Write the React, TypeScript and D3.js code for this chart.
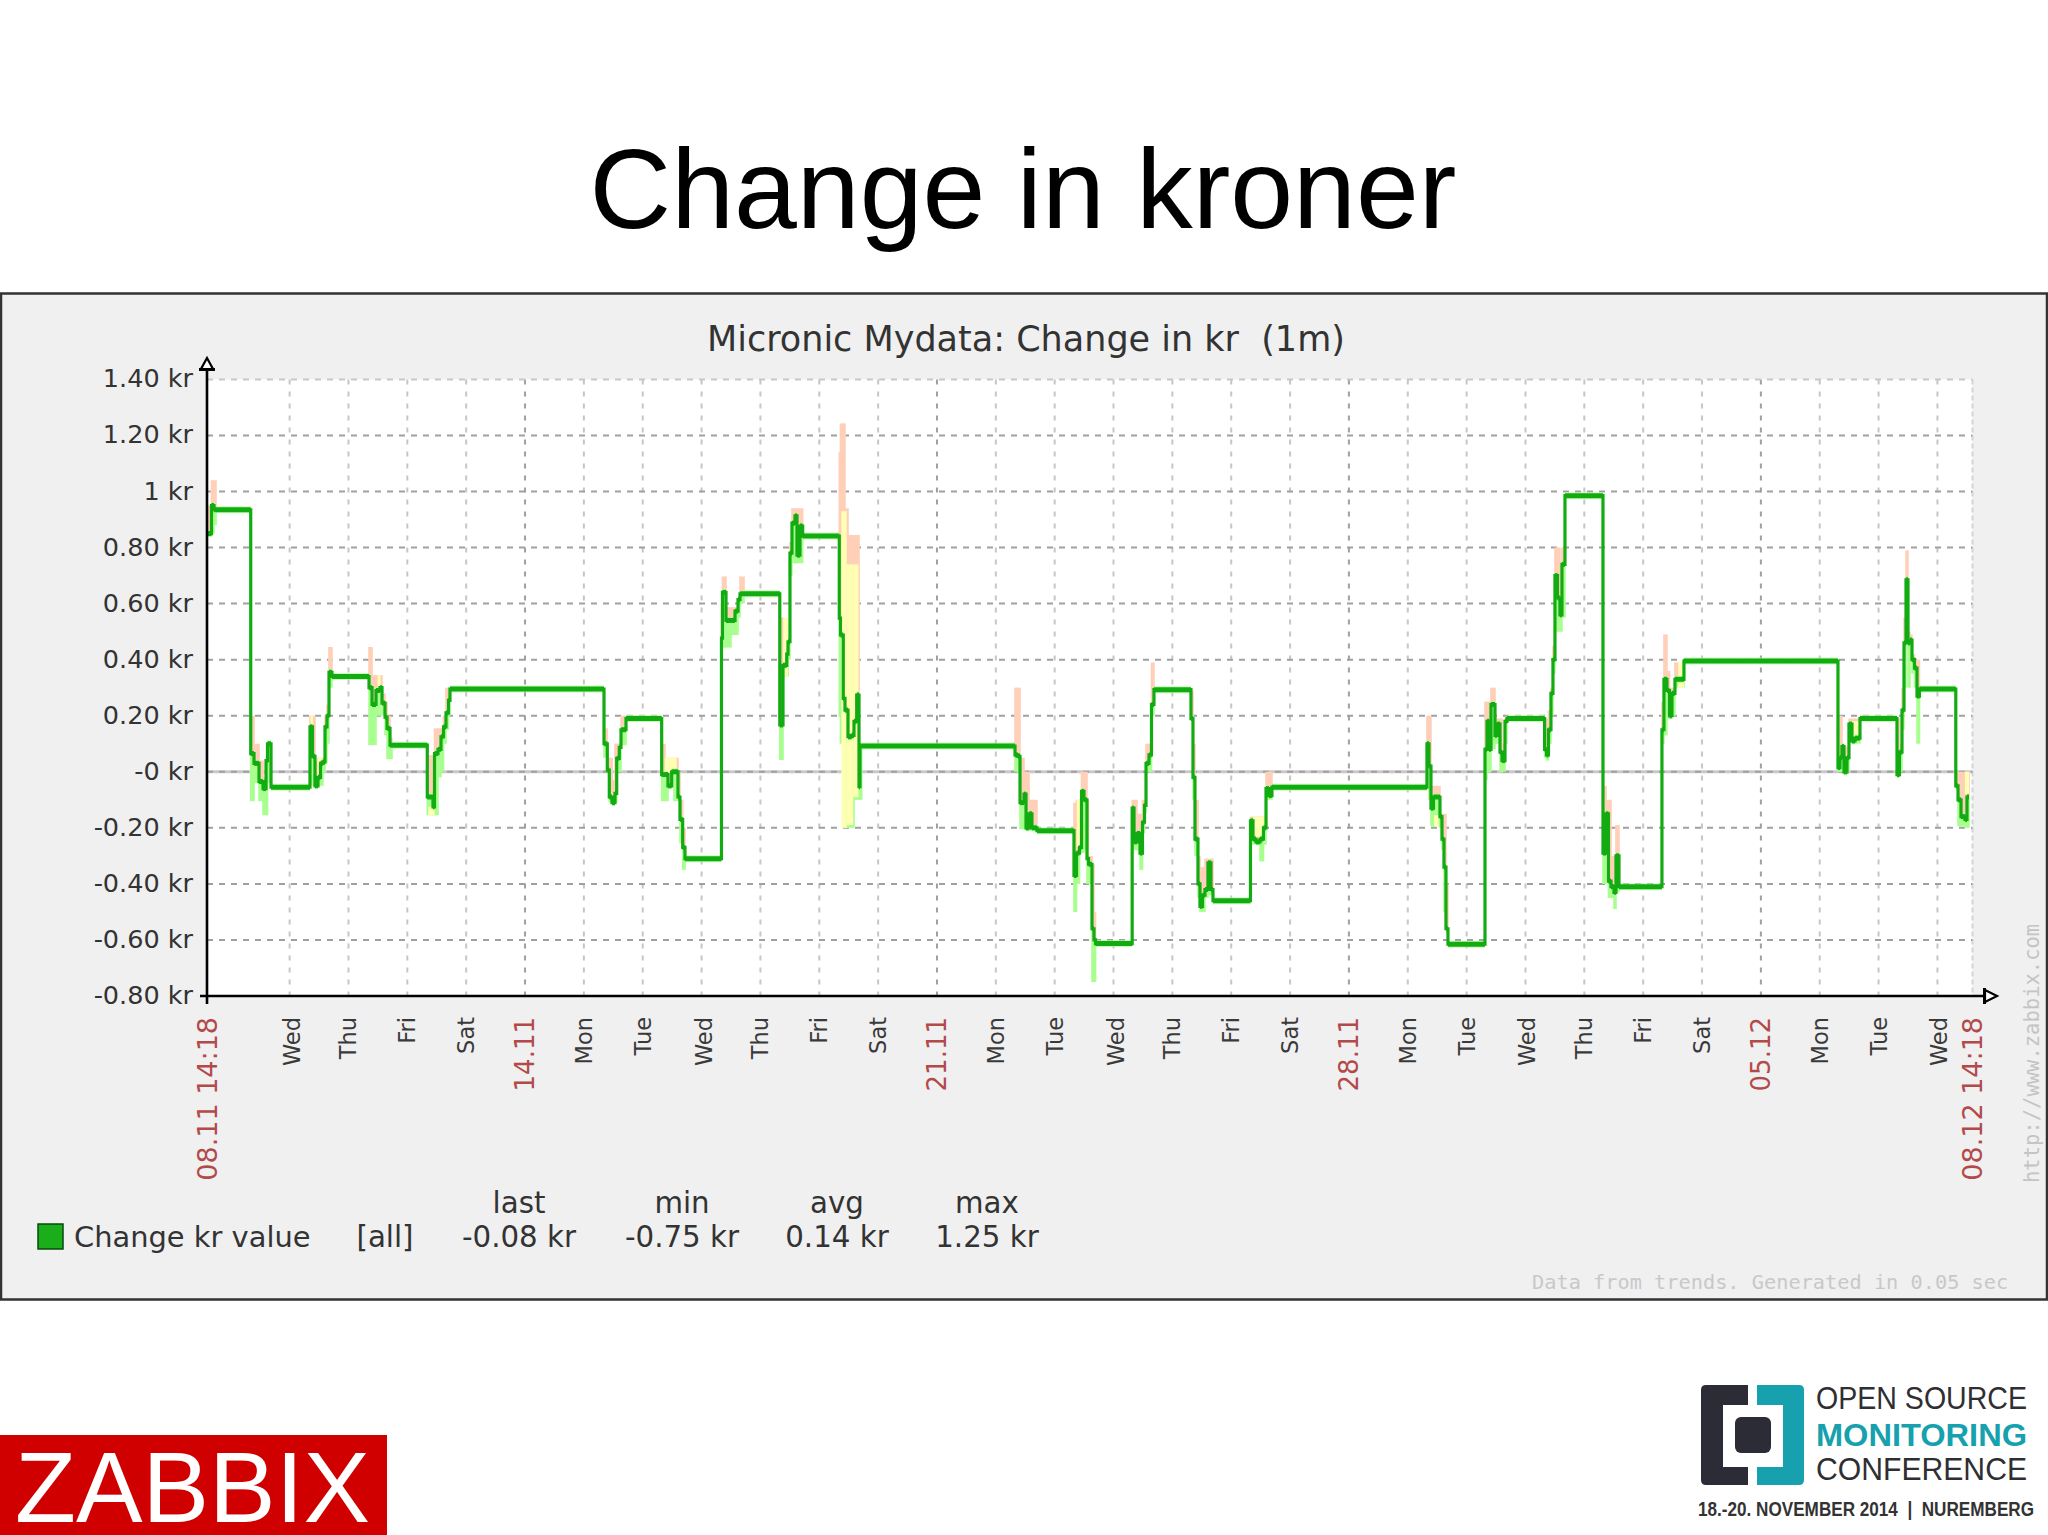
import { useEffect, useRef } from "react";
import * as d3 from "d3";

// trend values. days since 08.11 14:18
const trendDays = [
  0, 0.076, 0.119, 0.153, 0.743, 0.799, 0.884, 0.952, 1.003, 1.028,
  1.088, 1.75, 1.793, 1.835, 1.886, 1.929, 1.971, 2.005, 2.039, 2.073,
  2.124, 2.753, 2.804, 2.872, 2.94, 2.974, 3.025, 3.059, 3.11, 3.144,
  3.743, 3.84, 3.866, 3.925, 3.976, 4.019, 4.061, 4.104, 4.129, 6.746,
  6.802, 6.836, 6.882, 6.933, 6.962, 7.006, 7.035, 7.103, 7.12, 7.726,
  7.782, 7.833, 7.896, 7.935, 8.003, 8.037, 8.083, 8.122, 8.742, 8.759,
  8.819, 8.904, 8.972, 9.023, 9.057, 9.125, 9.733, 9.788, 9.851, 9.873,
  9.906, 9.94, 9.991, 10.025, 10.076, 10.122, 10.744, 10.764, 10.812, 10.841,
  10.892, 10.955, 10.994, 11.04, 11.079, 11.096, 11.125, 13.73, 13.781, 13.815,
  13.883, 13.917, 13.968, 14.018, 14.103, 14.732, 14.775, 14.826, 14.86, 14.902,
  14.953, 14.979, 15.038, 15.072, 15.098, 15.721, 15.752, 15.803, 15.854, 15.896,
  15.93, 15.956, 16.007, 16.049, 16.091, 16.72, 16.754, 16.788, 16.839, 16.873,
  16.916, 16.958, 17.009, 17.06, 17.094, 17.731, 17.774, 17.825, 17.893, 17.952,
  17.995, 18.046, 18.096, 20.73, 20.764, 20.798, 20.841, 20.951, 20.985, 21.019,
  21.053, 21.087, 21.716, 21.75, 21.784, 21.818, 21.886, 21.92, 21.971, 22.005,
  22.056, 22.09, 22.729, 22.761, 22.795, 22.837, 22.871, 22.905, 22.948, 22.99,
  23.024, 23.075, 23.721, 23.772, 23.814, 23.857, 23.908, 23.942, 23.993, 24.723,
  24.757, 24.808, 24.851, 24.893, 24.944, 25.097, 27.714, 27.748, 27.782, 27.816,
  27.867, 27.901, 27.952, 28.003, 28.088, 28.717, 28.759, 28.802, 28.836, 28.87,
  28.904, 28.938, 28.972, 29.014, 29.057, 29.099, 29.716, 29.754, 29.805, 29.873,
  29.906, 29.94,
];

const trendAvg = [
  0.85, 0.95, 0.935, 0.935, 0.065, 0.03, -0.035, -0.06, 0.04, 0.1,
  -0.055, 0.16, 0.055, -0.05, -0.02, 0.03, 0.035, 0.16, 0.2, 0.355,
  0.34, 0.3, 0.24, 0.29, 0.3, 0.245, 0.195, 0.155, 0.095, 0.095,
  -0.09, -0.125, 0.065, 0.08, 0.125, 0.16, 0.21, 0.255, 0.295, 0.1,
  0.006, -0.09, -0.11, -0.077, 0.048, 0.087, 0.15, 0.15, 0.19, -0.01,
  -0.01, -0.05, 0, 0, -0.09, -0.17, -0.27, -0.31, 0.477, 0.64,
  0.54, 0.54, 0.573, 0.614, 0.635, 0.635, 0.167, 0.38, 0.42, 0.464,
  0.78, 0.887, 0.913, 0.773, 0.877, 0.841, 0.548, 0.488, 0.262, 0.22,
  0.125, 0.13, 0.18, 0.274, -0.053, 0.092, 0.092, 0.06, 0.055, -0.11,
  -0.08, -0.2, -0.15, -0.2, -0.21, -0.37, -0.29, -0.27, -0.07, -0.1,
  -0.31, -0.33, -0.56, -0.6, -0.613, -0.13, -0.25, -0.22, -0.29, -0.18,
  -0.12, 0.03, 0.06, 0.24, 0.293, 0.19, -0.02, -0.24, -0.4, -0.48,
  -0.44, -0.42, -0.325, -0.42, -0.46, -0.175, -0.24, -0.25, -0.24, -0.2,
  -0.06, -0.085, -0.055, 0.1, 0.02, -0.13, -0.09, -0.16, -0.24, -0.34,
  -0.56, -0.615, 0.08, 0.18, 0.08, 0.24, 0.13, 0.17, 0.07, 0.04,
  0.18, 0.19, 0.08, 0.06, 0.15, 0.28, 0.4, 0.7, 0.62, 0.56,
  0.74, 0.985, -0.29, -0.15, -0.39, -0.41, -0.43, -0.3, -0.41, 0.15,
  0.33, 0.29, 0.2, 0.28, 0.33, 0.395, 0.015, 0.05, 0.09, 0,
  0.05, 0.17, 0.11, 0.12, 0.19, -0.01, 0.07, 0.22, 0.46, 0.685,
  0.46, 0.47, 0.4, 0.37, 0.27, 0.295, -0.05, -0.1, -0.16, -0.17,
  -0.09, -0.09,
];

const trendMin = [
  0.84, 0.85, 0.88, 0.935, -0.105, -0.04, -0.105, -0.155, -0.155, -0.04,
  -0.055, -0.05, -0.05, -0.05, -0.05, -0.05, 0, 0.03, 0.1, 0.3,
  0.34, 0.095, 0.095, 0.2, 0.25, 0.2, 0.13, 0.045, 0.045, 0.095,
  -0.155, -0.155, -0.155, -0.02, 0, 0.1, 0.15, 0.2, 0.295, 0.05,
  0, -0.11, -0.11, -0.11, 0, 0, 0.095, 0.095, 0.19, -0.105,
  -0.105, -0.05, -0.02, -0.105, -0.105, -0.255, -0.35, -0.31, 0.443, 0.443,
  0.443, 0.488, 0.488, 0.55, 0.6, 0.635, 0.042, 0.34, 0.34, 0.4,
  0.7, 0.744, 0.744, 0.744, 0.744, 0.841, 0.196, 0.1, 0.1, -0.2,
  -0.2, -0.2, -0.1, -0.1, -0.1, -0.1, 0.092, 0, 0, -0.205,
  -0.205, -0.21, -0.21, -0.21, -0.21, -0.5, -0.4, -0.29, -0.29, -0.28,
  -0.4, -0.4, -0.75, -0.75, -0.613, -0.28, -0.28, -0.28, -0.35, -0.22,
  -0.15, 0, 0, 0.2, 0.293, 0.19, -0.1, -0.3, -0.45, -0.5,
  -0.5, -0.45, -0.44, -0.44, -0.46, -0.2, -0.26, -0.26, -0.32, -0.26,
  -0.1, -0.1, -0.055, -0.04, -0.1, -0.195, -0.195, -0.2, -0.28, -0.5,
  -0.56, -0.615, -0.03, 0, 0, 0.08, 0.1, 0.1, 0, 0,
  0.1, 0.19, 0.05, 0.04, 0.1, 0.2, 0.35, 0.5, 0.5, 0.5,
  0.55, 0.985, -0.4, -0.29, -0.45, -0.45, -0.49, -0.43, -0.41, 0.1,
  0.13, 0.19, 0.19, 0.2, 0.3, 0.395, 0, 0, 0, -0.01,
  0, 0.12, 0.1, 0.1, 0.19, -0.01, 0, 0.15, 0.3, 0.47,
  0.3, 0.4, 0.35, 0.3, 0.1, 0.295, -0.05, -0.195, -0.195, -0.2,
  -0.2, -0.09,
];

const trendMax = [
  0.95, 1.04, 1.04, 0.935, 0.2, 0.1, 0.04, -0.02, 0.04, 0.1,
  -0.055, 0.2, 0.2, 0.04, 0.05, 0.05, 0.05, 0.2, 0.24, 0.445,
  0.34, 0.445, 0.345, 0.345, 0.345, 0.28, 0.25, 0.2, 0.12, 0.095,
  0.06, 0, 0.155, 0.155, 0.155, 0.2, 0.3, 0.3, 0.295, 0.155,
  0.05, 0.05, -0.03, 0.1, 0.1, 0.1, 0.2, 0.2, 0.19, 0.1,
  0.05, 0.05, 0.05, 0.05, 0, -0.1, -0.2, -0.31, 0.6, 0.697,
  0.587, 0.587, 0.587, 0.62, 0.697, 0.635, 0.55, 0.547, 0.46, 0.47,
  0.82, 0.94, 0.94, 0.94, 0.94, 0.841, 1.14, 1.243, 1.243, 0.94,
  0.845, 0.845, 0.845, 0.845, 0.08, 0.092, 0.092, 0.3, 0.3, 0.05,
  0, 0, -0.1, -0.1, -0.21, -0.11, -0.1, -0.1, 0, 0,
  -0.1, -0.3, -0.33, -0.5, -0.613, -0.1, -0.1, -0.15, -0.15, -0.1,
  -0.1, 0.1, 0.1, 0.39, 0.293, 0.29, 0.1, -0.1, -0.3, -0.34,
  -0.34, -0.31, -0.31, -0.31, -0.46, -0.16, -0.16, -0.16, -0.16, -0.16,
  0, 0, -0.055, 0.2, 0.2, -0.05, -0.05, -0.15, -0.15, -0.15,
  -0.4, -0.615, 0.25, 0.25, 0.25, 0.3, 0.19, 0.19, 0.19, 0.1,
  0.19, 0.19, 0.19, 0.19, 0.22, 0.3, 0.45, 0.8, 0.8, 0.6,
  0.8, 0.985, -0.05, -0.1, -0.1, -0.3, -0.3, -0.19, -0.41, 0.25,
  0.49, 0.36, 0.3, 0.3, 0.39, 0.395, 0.2, 0.2, 0.1, 0.09,
  0.09, 0.19, 0.19, 0.19, 0.19, 0.19, 0.1, 0.3, 0.55, 0.79,
  0.5, 0.49, 0.42, 0.4, 0.4, 0.295, 0, 0, 0, 0,
  0, -0.09,
];

// pale yellow patches where the min and max shadows overlap
const overlapStart = [10.78, 10.87, 10.98, 9.79, 7.78, 20.85, 24.83, 25.0, 27.95, 29.87, 14.78, 17.78, 1.76, 1.88, 3.76, 2.9];
const overlapEnd = [10.87, 10.98, 11.07, 9.87, 7.98, 20.93, 24.9, 25.1, 28.09, 29.94, 14.86, 17.98, 1.8, 1.95, 3.87, 2.95];
const overlapTop = [0.93, 0.74, 0.74, 0.547, 0.05, -0.155, 0.25, 0.39, 0.18, 0, -0.1, -0.16, 0.2, 0.05, -0.125, 0.345];
const overlapBottom = [-0.2, -0.19, -0.09, 0.34, 0, -0.195, 0.2, 0.3, 0.12, -0.08, -0.27, -0.25, 0.16, -0.02, -0.155, 0.3];

const yTicks = [1.4, 1.2, 1, 0.8, 0.6, 0.4, 0.2, 0, -0.2, -0.4, -0.6, -0.8];
const yLabels = ["1.40 kr", "1.20 kr", "1 kr", "0.80 kr", "0.60 kr", "0.40 kr", "0.20 kr", "-0 kr", "-0.20 kr", "-0.40 kr", "-0.60 kr", "-0.80 kr"];

const firstDayTick = 1.404;
const dayLabels = [
  "Wed", "Thu", "Fri", "Sat", "14.11", "Mon", "Tue",
  "Wed", "Thu", "Fri", "Sat", "21.11", "Mon", "Tue",
  "Wed", "Thu", "Fri", "Sat", "28.11", "Mon", "Tue",
  "Wed", "Thu", "Fri", "Sat", "05.12", "Mon", "Tue", "Wed",
];
const rangeLabels = ["08.11 14:18", "08.12 14:18"];

const legendHeads = ["last", "min", "avg", "max"];
const legendValues = ["-0.08 kr", "-0.75 kr", "0.14 kr", "1.25 kr"];
const legendCols = [519, 682, 837, 987];

const SANS = "'DejaVu Sans'";
const MONO = "'DejaVu Sans Mono'";
const ARIAL = "'Liberation Sans'";

export default function App() {
  const svgRef = useRef<SVGSVGElement>(null);

  useEffect(() => {
    if (!svgRef.current) return;
    const svg = d3.select(svgRef.current);
    svg.selectAll("*").remove();

    const plot = { left: 207, right: 1972.5, top: 379.4, bottom: 996 };
    const x = d3.scaleLinear().domain([0, 30]).range([plot.left, plot.right]);
    const y = d3.scaleLinear().domain([-0.8, 1.4]).range([plot.bottom, plot.top]);

    const text = (
      parent: d3.Selection<any, any, any, any>,
      s: string,
      tx: number,
      ty: number,
      size: number,
      fill: string,
      family = SANS,
      anchor = "start"
    ) =>
      parent
        .append("text")
        .attr("x", tx)
        .attr("y", ty)
        .attr("font-size", size)
        .attr("font-family", family)
        .attr("fill", fill)
        .attr("text-anchor", anchor)
        .style("white-space", "pre")
        .text(s);

    // vertical text, reads bottom to top
    const upright = (s: string, tx: number, ty: number, size: number, fill: string, family: string, anchor: string) => {
      const g = svg.append("g").attr("transform", `translate(${tx},${ty}) rotate(-90)`);
      text(g, s, 0, 0, size, fill, family, anchor);
    };

    svg.append("rect").attr("width", 2048).attr("height", 1535).attr("fill", "#fff");

    text(svg, "Change in kroner", 1023, 228, 113, "#000", ARIAL, "middle");

    // zabbix graph panel
    svg
      .append("rect")
      .attr("x", 1)
      .attr("y", 293.5)
      .attr("width", 2046)
      .attr("height", 1006)
      .attr("fill", "#f0f0f1")
      .attr("stroke", "#333")
      .attr("stroke-width", 2.5);

    text(svg, "Micronic Mydata: Change in kr  (1m)", 707, 351, 35, "#333");

    svg
      .append("rect")
      .attr("x", plot.left)
      .attr("y", plot.top)
      .attr("width", plot.right - plot.left)
      .attr("height", plot.bottom - plot.top)
      .attr("fill", "#fff");

    // grid
    const dayTicks = dayLabels.map((_, i) => firstDayTick + i);
    svg
      .append("g")
      .selectAll("line")
      .data(dayTicks)
      .join("line")
      .attr("x1", (d) => x(d))
      .attr("x2", (d) => x(d))
      .attr("y1", plot.top)
      .attr("y2", plot.bottom)
      .attr("stroke", (_, i) => (dayLabels[i].includes(".") ? "#a0a0a0" : "#c6c6c6"))
      .attr("stroke-width", 2)
      .attr("stroke-dasharray", "5,7");

    svg
      .append("line")
      .attr("x1", plot.right)
      .attr("x2", plot.right)
      .attr("y1", plot.top)
      .attr("y2", plot.bottom)
      .attr("stroke", "#d4d4d4")
      .attr("stroke-width", 2)
      .attr("stroke-dasharray", "5,3");

    svg
      .append("line")
      .attr("x1", plot.left)
      .attr("x2", plot.right)
      .attr("y1", y(0))
      .attr("y2", y(0))
      .attr("stroke", "#c8c8c8")
      .attr("stroke-width", 3);

    svg
      .append("g")
      .selectAll("line")
      .data(yTicks.filter((t) => t !== -0.8))
      .join("line")
      .attr("x1", plot.left)
      .attr("x2", plot.right)
      .attr("y1", (d) => y(d))
      .attr("y2", (d) => y(d))
      .attr("stroke", (d) => (d === 1.4 ? "#c8c8c8" : "#a0a0a0"))
      .attr("stroke-width", 2)
      .attr("stroke-dasharray", "6,6");

    // min / max shadows, one rect per trend step
    const steps = d3.range(trendDays.length - 1);
    const stepX = (i: number) => x(trendDays[i]) - 0.8;
    const stepW = (i: number) => x(trendDays[i + 1]) - x(trendDays[i]) + 1.6;

    svg
      .append("g")
      .selectAll("rect")
      .data(steps.filter((i) => trendMax[i] > trendAvg[i]))
      .join("rect")
      .attr("x", stepX)
      .attr("width", stepW)
      .attr("y", (i) => y(trendMax[i]))
      .attr("height", (i) => y(trendAvg[i]) - y(trendMax[i]))
      .attr("fill", "#ffcfb8");

    svg
      .append("g")
      .selectAll("rect")
      .data(steps.filter((i) => trendMin[i] < trendAvg[i]))
      .join("rect")
      .attr("x", stepX)
      .attr("width", stepW)
      .attr("y", (i) => y(trendAvg[i]))
      .attr("height", (i) => y(trendMin[i]) - y(trendAvg[i]))
      .attr("fill", "#a8ff90");

    svg
      .append("g")
      .selectAll("rect")
      .data(d3.range(overlapStart.length))
      .join("rect")
      .attr("x", (i) => x(overlapStart[i]))
      .attr("width", (i) => x(overlapEnd[i]) - x(overlapStart[i]))
      .attr("y", (i) => y(overlapTop[i]))
      .attr("height", (i) => y(overlapBottom[i]) - y(overlapTop[i]))
      .attr("fill", "#ffffb4");

    // soft halo the rescaled screenshot leaves around the flat runs
    svg
      .append("g")
      .selectAll("line")
      .data(steps)
      .join("line")
      .attr("x1", (i) => x(trendDays[i]))
      .attr("x2", (i) => x(trendDays[i + 1]))
      .attr("y1", (i) => y(trendAvg[i]))
      .attr("y2", (i) => y(trendAvg[i]))
      .attr("stroke", "#a8ff90")
      .attr("stroke-opacity", 0.7)
      .attr("stroke-width", 7);

    // avg line: verticals come out thinner than the flat runs in the original
    const avgLine = d3
      .line<number>()
      .x((d, i) => x(trendDays[i]))
      .y((d) => y(d))
      .curve(d3.curveStepAfter);

    svg
      .append("path")
      .attr("d", avgLine(trendAvg))
      .attr("fill", "none")
      .attr("stroke", "#12ab12")
      .attr("stroke-width", 3.2);

    svg
      .append("g")
      .selectAll("line")
      .data(steps)
      .join("line")
      .attr("x1", (i) => x(trendDays[i]))
      .attr("x2", (i) => x(trendDays[i + 1]))
      .attr("y1", (i) => y(trendAvg[i]))
      .attr("y2", (i) => y(trendAvg[i]))
      .attr("stroke", "#12ab12")
      .attr("stroke-width", 5);

    // axes
    svg
      .append("line")
      .attr("x1", plot.left)
      .attr("x2", plot.left)
      .attr("y1", 366)
      .attr("y2", 1004)
      .attr("stroke", "#000")
      .attr("stroke-width", 2.6);
    svg
      .append("line")
      .attr("x1", plot.left - 7)
      .attr("x2", 1988)
      .attr("y1", plot.bottom)
      .attr("y2", plot.bottom)
      .attr("stroke", "#000")
      .attr("stroke-width", 2.6);

    svg
      .append("path")
      .attr("d", "M207,358 L201,369 H213 Z")
      .attr("fill", "#fff")
      .attr("stroke", "#000")
      .attr("stroke-width", 2.2);
    svg
      .append("line")
      .attr("x1", 199)
      .attr("x2", 215)
      .attr("y1", 369.5)
      .attr("y2", 369.5)
      .attr("stroke", "#000")
      .attr("stroke-width", 3);
    svg
      .append("path")
      .attr("d", "M1997,996 L1985,990 V1002 Z")
      .attr("fill", "#fff")
      .attr("stroke", "#000")
      .attr("stroke-width", 2.2);
    svg
      .append("line")
      .attr("x1", 1984.5)
      .attr("x2", 1984.5)
      .attr("y1", 988)
      .attr("y2", 1004)
      .attr("stroke", "#000")
      .attr("stroke-width", 3);

    // y labels
    yTicks.forEach((t, i) => {
      text(svg, yLabels[i], 193, y(t) + 8, 25.5, "#333", SANS, "end");
    });

    // x labels
    dayLabels.forEach((s, i) => {
      if (s.includes(".")) upright(s, x(dayTicks[i]) + 9, 1017, 26, "#b34a4a", SANS, "end");
      else upright(s, x(dayTicks[i]) + (s === "Wed" ? 10 : 8), 1017, 22.5, "#3a3a3a", SANS, "end");
    });
    upright(rangeLabels[0], x(0) + 10, 1017, 27, "#b34a4a", SANS, "end");
    upright(rangeLabels[1], x(30) + 9, 1017, 27, "#b34a4a", SANS, "end");

    // watermark
    upright("http://www.zabbix.com", 2039, 1183, 20.5, "#c4c4c4", MONO, "start");
    text(svg, "Data from trends. Generated in 0.05 sec", 1532, 1289, 20.3, "#c8c8c8", MONO);

    // legend
    svg
      .append("rect")
      .attr("x", 38)
      .attr("y", 1224)
      .attr("width", 25)
      .attr("height", 25)
      .attr("fill", "#1aaf1a")
      .attr("stroke", "#0a4a0a")
      .attr("stroke-width", 1.5);
    text(svg, "Change kr value", 74, 1247, 28.9, "#333");
    text(svg, "[all]", 385, 1247, 29.3, "#333", SANS, "middle");
    legendHeads.forEach((h, i) => {
      text(svg, h, legendCols[i], 1213, 29.3, "#333", SANS, "middle");
      text(svg, legendValues[i], legendCols[i], 1247, 29.3, "#333", SANS, "middle");
    });

    // zabbix logo
    svg.append("rect").attr("x", 0).attr("y", 1435).attr("width", 387).attr("height", 100).attr("fill", "#d00000");
    text(svg, "ZABBIX", 15, 1522, 100, "#fff", ARIAL)
      .attr("textLength", 355)
      .attr("lengthAdjust", "spacingAndGlyphs");

    // conference logo
    const dark = "#2c2c36";
    const teal = "#17a0ae";
    svg
      .append("path")
      .attr("d", "M1748,1385 H1706 Q1701,1385 1701,1390 V1480 Q1701,1485 1706,1485 H1748 V1467 H1723 V1405 H1748 Z")
      .attr("fill", dark);
    svg
      .append("path")
      .attr("d", "M1757,1385 H1799 Q1804,1385 1804,1390 V1480 Q1804,1485 1799,1485 H1757 V1467 H1783 V1405 H1757 Z")
      .attr("fill", teal);
    svg.append("rect").attr("x", 1735).attr("y", 1417).attr("width", 36).attr("height", 36).attr("rx", 6).attr("fill", dark);

    const logoLine = (s: string, lx: number, ly: number, size: number, w: number, fill: string, weight: number) =>
      text(svg, s, lx, ly, size, fill, ARIAL)
        .attr("font-weight", weight)
        .attr("textLength", w)
        .attr("lengthAdjust", "spacingAndGlyphs");
    logoLine("OPEN SOURCE", 1816, 1409, 32, 211, "#2f2f33", 400);
    logoLine("MONITORING", 1816, 1446, 32, 211, teal, 700);
    logoLine("CONFERENCE", 1816, 1480, 32, 211, "#2f2f33", 400);
    logoLine("18.-20. NOVEMBER 2014  |  NUREMBERG", 1698, 1516, 20, 336, "#333", 700);
  }, []);

  return (
    <svg
      ref={svgRef}
      width={2048}
      height={1535}
      style={{ position: "absolute", left: 0, top: 0, display: "block" }}
    />
  );
}
